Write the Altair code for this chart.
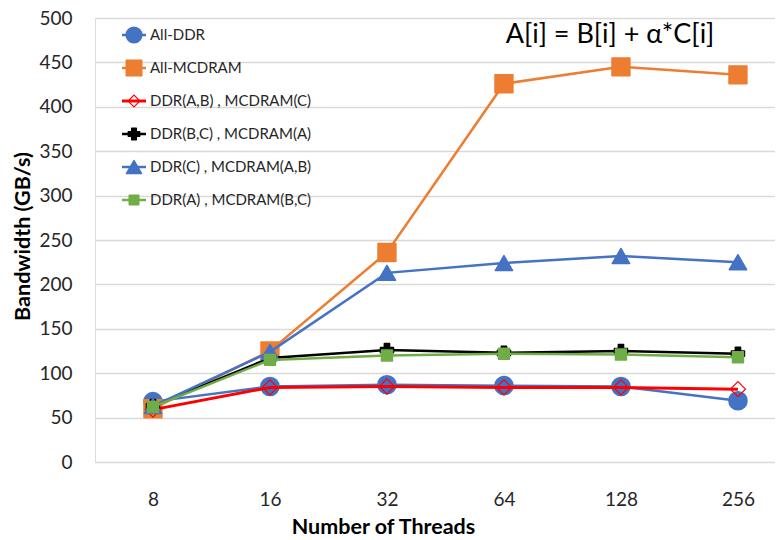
import altair as alt
import pandas as pd

threads = ["8", "16", "32", "64", "128", "256"]
series_names = [
    "All-DDR",
    "All-MCDRAM",
    "DDR(A,B) , MCDRAM(C)",
    "DDR(B,C) , MCDRAM(A)",
    "DDR(C) , MCDRAM(A,B)",
    "DDR(A) , MCDRAM(B,C)",
]
all_ddr = [68, 85, 87, 86, 85, 69]
all_mcdram = [60, 125, 236, 426, 445, 436]
ddr_ab = [59, 84, 85, 84, 84, 82]
ddr_bc = [63, 117, 126, 123, 125, 122]
ddr_c = [63, 124, 213, 224, 232, 225]
ddr_a = [62, 115, 120, 122, 121, 118]
annotation = "A[i] = B[i] + α*C[i]"

series_values = [all_ddr, all_mcdram, ddr_ab, ddr_bc, ddr_c, ddr_a]

rows = []
for name, vals in zip(series_names, series_values):
    for t, v in zip(threads, vals):
        rows.append({"threads": t, "series": name, "value": v})
df = pd.DataFrame(rows)
leg_df = pd.DataFrame({"series": series_names})

FONT = "Lato"
styles = {
    "All-DDR": dict(color="#4472C4", shape="circle", size=330, filled=True, lw=2.5),
    "All-MCDRAM": dict(color="#ED7D31", shape="square", size=320, filled=True, lw=2.5),
    "DDR(A,B) , MCDRAM(C)": dict(color="#FF0000", shape="diamond", size=230, filled=False, lw=3),
    "DDR(B,C) , MCDRAM(A)": dict(color="#000000", shape="cross", size=170, filled=True, lw=2.5),
    "DDR(C) , MCDRAM(A,B)": dict(color="#4472C4", shape="triangle-up", size=300, filled=True, lw=2.5),
    "DDR(A) , MCDRAM(B,C)": dict(color="#70AD47", shape="square", size=120, filled=True, lw=2.5),
}

xenc = alt.X(
    "threads:O",
    sort=threads,
    scale=alt.Scale(type="point", padding=0.406, align=0.61),
    axis=alt.Axis(
        title="Number of Threads", labelAngle=0, labelFont=FONT, labelFontSize=19,
        labelColor="#262626", domain=False, ticks=False, grid=False, labelPadding=28,
        titleFont=FONT, titleFontSize=21.5, titleFontWeight="bold", titleColor="#000000",
        titleX=288, titleY=65, titleAnchor="middle", titleBaseline="middle",
    ),
)
yaxis = alt.Axis(
    title="Bandwidth (GB/s)", values=list(range(0, 501, 50)), labelFont=FONT,
    labelFontSize=19, labelColor="#262626", domain=False, ticks=False, grid=True,
    gridColor="#d9d9d9", gridWidth=1.3, labelPadding=23, titleFont=FONT,
    titleFontSize=21.5, titleFontWeight="bold", titleColor="#000000",
    titleX=-72, titleY=218, titleBaseline="middle",
)
yenc = alt.Y("value:Q", scale=alt.Scale(domain=[0, 500]), axis=yaxis)

base = alt.Chart(df)
main_layers = []
for i, name in enumerate(series_names):
    st = styles[name]
    sub = base.transform_filter(alt.datum.series == name)
    main_layers.append(
        sub.mark_line(color=st["color"], strokeWidth=st["lw"]).encode(x=xenc, y=yenc)
    )
    if st["filled"]:
        pm = sub.mark_point(shape=st["shape"], size=st["size"], filled=True,
                            color=st["color"], opacity=1, strokeWidth=1.5,
                            stroke=st["color"], strokeJoin="round")
    else:
        pm = sub.mark_point(shape=st["shape"], size=st["size"], filled=False,
                            color=st["color"], opacity=1, strokeWidth=1.2)
    main_layers.append(pm.encode(x=xenc, y=yenc))
main = alt.layer(*main_layers)

lyenc = alt.Y("series:N", sort=series_names,
              scale=alt.Scale(type="point", domain=series_names, range=[17, 182], padding=0),
              axis=None)
lbase = alt.Chart(leg_df)
leg_layers = []
for name in series_names:
    st = styles[name]
    sub = lbase.transform_filter(alt.datum.series == name)
    leg_layers.append(
        sub.mark_rule(color=st["color"], strokeWidth=st["lw"]).encode(
            x=alt.value(27), x2=alt.value(51), y=lyenc)
    )
    if st["filled"]:
        pm = sub.mark_point(shape=st["shape"], size=st["size"] * 0.75, filled=True,
                            color=st["color"], opacity=1, strokeWidth=1.5,
                            stroke=st["color"], strokeJoin="round")
    else:
        pm = sub.mark_point(shape=st["shape"], size=st["size"] * 0.6, filled=False,
                            color=st["color"], opacity=1, strokeWidth=1.2)
    leg_layers.append(pm.encode(x=alt.value(39), y=lyenc))
leg_layers.append(
    lbase.mark_text(align="left", baseline="middle", font=FONT, fontSize=15,
                    color="#262626").encode(x=alt.value(55), y=lyenc, text="series:N")
)
ann = alt.Chart(pd.DataFrame({"t": [annotation]})).mark_text(
    align="center", baseline="middle", font=FONT, fontSize=27, color="#000000"
).encode(x=alt.value(515), y=alt.value(17), text="t:N")
leg_layers.append(ann)
legend = alt.layer(*leg_layers)

chart = (
    alt.layer(main, legend)
    .resolve_scale(y="independent")
    .properties(
        width=680, height=444,
        autosize=alt.AutoSizeParams(type="none"),
        padding={"left": 87, "top": 10, "right": 0, "bottom": 76},
    )
    .configure_view(strokeWidth=0)
    .configure(background="white")
)
chart.save("out.html", embed_options={"renderer": "svg", "actions": False})
